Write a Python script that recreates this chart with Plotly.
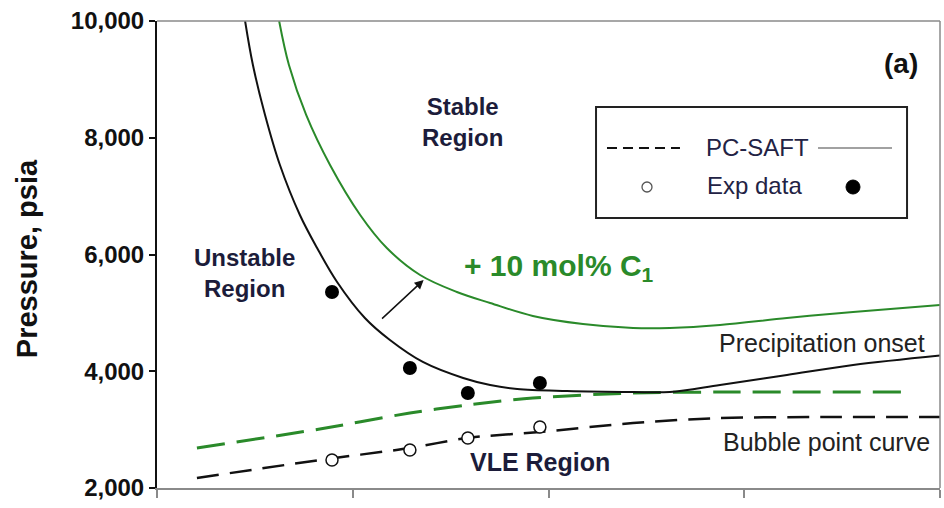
import plotly.graph_objects as go

# Temperature-like abscissa (tick labels hidden), pressure in psia
onset_x = [122.5, 124.5, 127.6, 131.4, 136.5, 140.9, 146.0, 153.1, 159.5, 167.9, 178.2, 185.1,
           192.0, 204.7, 221.6, 231.0, 243.8, 260.9, 277.8, 300.0]
onset_p = [10000, 9246, 8390, 7533, 6677, 6111, 5529, 4912, 4535, 4159, 3884, 3764,
           3696, 3662, 3645, 3645, 3764, 3936, 4107, 4270]

onset_c1_x = [131.2, 133.7, 138.1, 144.2, 151.9, 158.7, 167.2, 176.6, 185.1, 196.0, 208.8,
              221.6, 231.0, 243.8, 260.9, 277.8, 300.0]
onset_c1_p = [10000, 9246, 8390, 7533, 6677, 6111, 5649, 5358, 5169, 4947, 4809,
              4741, 4741, 4792, 4912, 5015, 5135]

bubble_x = [110.2, 141.6, 164.6, 179.2, 197.8, 221.6, 243.8, 271.9, 300.0]
bubble_p = [2171, 2480, 2685, 2857, 2959, 3113, 3199, 3216, 3216]

bubble_c1_x = [110.2, 141.6, 164.6, 179.2, 196.0, 221.6, 243.8, 290.5]
bubble_c1_p = [2685, 3011, 3285, 3422, 3542, 3627, 3644, 3644]

exp_onset_x = [144.7, 164.6, 179.4, 197.8]
exp_onset_p = [5358, 4056, 3627, 3799]

exp_bubble_x = [144.7, 164.6, 179.4, 197.8]
exp_bubble_p = [2480, 2651, 2857, 3045]

y_ticks = [2000, 4000, 6000, 8000, 10000]
x_ticks = [100, 150, 200, 250, 300]

GREEN = "#2a8a2a"
NAVY = "#1c1c3a"
FONT = "Liberation Sans, Arial, sans-serif"

fig = go.Figure()

fig.add_trace(go.Scatter(x=bubble_c1_x, y=bubble_c1_p, mode="lines",
                         line=dict(color=GREEN, width=3, dash="28px,12px", shape="spline", smoothing=0.8)))
fig.add_trace(go.Scatter(x=bubble_x, y=bubble_p, mode="lines",
                         line=dict(color="#111111", width=2.5, dash="22px,11px", shape="spline", smoothing=0.8)))
fig.add_trace(go.Scatter(x=onset_c1_x, y=onset_c1_p, mode="lines",
                         line=dict(color=GREEN, width=2, shape="spline", smoothing=1)))
fig.add_trace(go.Scatter(x=onset_x, y=onset_p, mode="lines",
                         line=dict(color="#111111", width=2, shape="spline", smoothing=1)))
fig.add_trace(go.Scatter(x=exp_onset_x, y=exp_onset_p, mode="markers",
                         marker=dict(color="#000000", size=14, symbol="circle")))
fig.add_trace(go.Scatter(x=exp_bubble_x, y=exp_bubble_p, mode="markers",
                         marker=dict(color="white", size=12, symbol="circle",
                                     line=dict(color="#111111", width=1.5))))


def label(x, y, text, size, color, ref="x", **kw):
    d = dict(x=x, y=y, xref="paper" if ref == "paper" else "x",
             yref="paper" if ref == "paper" else "y",
             text=text, showarrow=False, xanchor="center", yanchor="middle",
             font=dict(family=FONT, size=size, color=color))
    d.update(kw)
    return d


annotations = [
    # shift of the onset curve with added methane
    dict(x=168.1, y=5563, ax=157.1, ay=4878, xref="x", yref="y", axref="x", ayref="y",
         text="", showarrow=True, arrowhead=2, arrowsize=1.2, arrowwidth=1.5, arrowcolor="#111111"),
    label(178.1, 8270, "<b>Stable<br>Region</b>", 24, NAVY),
    label(122.3, 5683, "<b>Unstable<br>Region</b>", 24, NAVY),
    label(177.9, 5769, "<b>+ 10 mol% C<sub>1</sub></b>", 30, GREEN, xanchor="left"),
    label(197.8, 2445, "<b>VLE Region</b>", 25, NAVY),
    label(269.8, 4484, "Precipitation onset", 25, "#222222"),
    label(271.1, 2788, "Bubble point curve", 25, "#222222"),
    label(0.950, 0.908, "<b>(a)</b>", 28, "#111111", ref="paper"),
    label(-0.166, 0.490, "<b>Pressure, psia</b>", 29, "#111111", ref="paper", textangle=-90),
    # legend contents
    label(0.7663, 0.7281, "PC-SAFT", 24, "#222244", ref="paper"),
    label(0.7637, 0.6480, "Exp data", 24, "#222244", ref="paper"),
]

shapes = [
    # frame: top and right edges
    dict(type="line", xref="paper", yref="paper", x0=0, x1=1, y0=1, y1=1,
         line=dict(color="#8a8a8a", width=1.5)),
    dict(type="line", xref="paper", yref="paper", x0=1, x1=1, y0=0, y1=1,
         line=dict(color="#8a8a8a", width=1.5)),
    # legend box
    dict(type="rect", xref="paper", yref="paper", x0=0.5607, x1=0.9579, y0=0.5782, y1=0.8158,
         line=dict(color="#222222", width=2), fillcolor="white", layer="below"),
    dict(type="line", xref="paper", yref="paper", x0=0.5747, x1=0.6679, y0=0.7281, y1=0.7281,
         line=dict(color="#111111", width=2, dash="10px,6px")),
    dict(type="line", xref="paper", yref="paper", x0=0.8442, x1=0.9387, y0=0.7281, y1=0.7281,
         line=dict(color="#444444", width=1.2)),
    dict(type="circle", xref="paper", yref="paper", xsizemode="pixel", ysizemode="pixel",
         xanchor=0.6258, yanchor=0.6445, x0=-5, x1=5, y0=-5, y1=5,
         line=dict(color="#555555", width=1.3), fillcolor="white"),
    dict(type="circle", xref="paper", yref="paper", xsizemode="pixel", ysizemode="pixel",
         xanchor=0.8889, yanchor=0.6445, x0=-7, x1=7, y0=-7, y1=7,
         line=dict(color="#000000", width=1), fillcolor="#000000"),
]

fig.update_layout(
    width=944, height=508,
    margin=dict(l=157, r=4, t=21, b=20),
    paper_bgcolor="white", plot_bgcolor="white",
    showlegend=False,
    annotations=annotations,
    shapes=shapes,
    xaxis=dict(range=[100, 300], tickvals=x_ticks, showticklabels=False,
               ticks="outside", ticklen=8, tickcolor="#8a8a8a", tickwidth=1.5,
               showline=True, linecolor="#8a8a8a", linewidth=1.5,
               showgrid=False, zeroline=False),
    yaxis=dict(range=[2000, 10000], tickvals=y_ticks, tickformat=",d",
               ticks="outside", ticklen=6, tickcolor="#111111", tickwidth=1.5,
               showline=True, linecolor="#111111", linewidth=2,
               showgrid=False, zeroline=False,
               tickfont=dict(family=FONT, size=24, color="#111111", weight="bold")),
)

fig.write_html("out.html")
